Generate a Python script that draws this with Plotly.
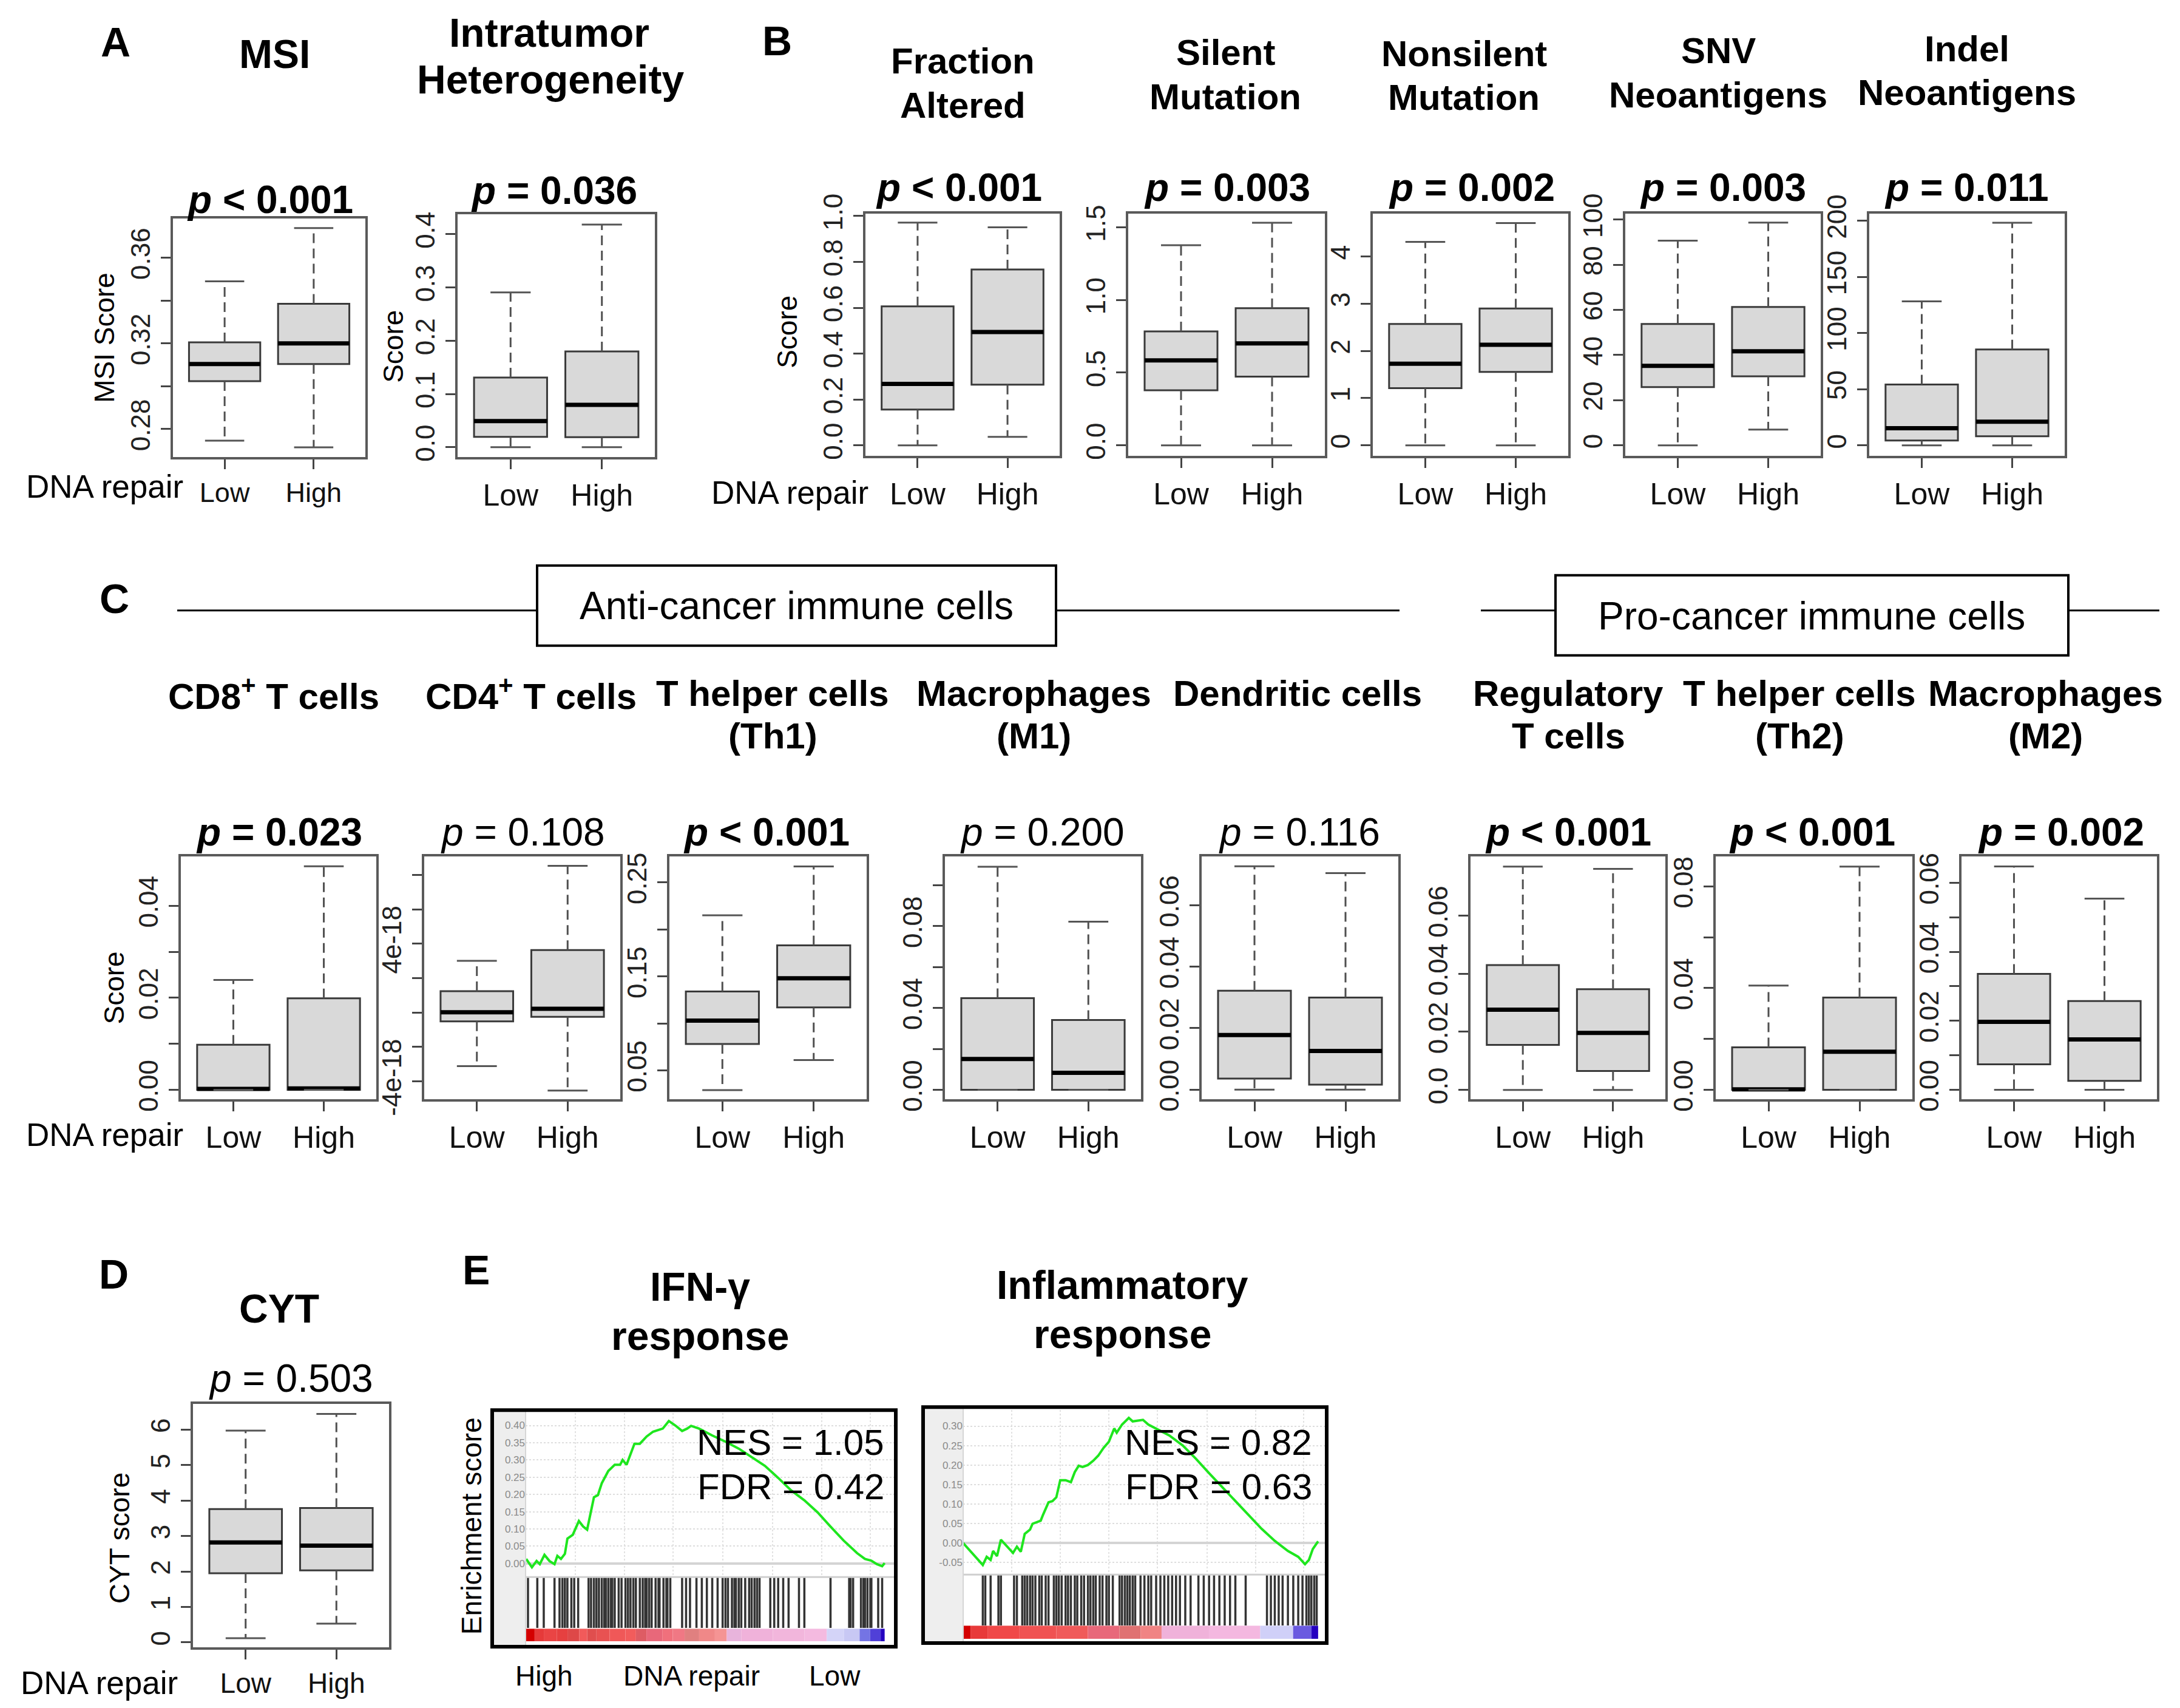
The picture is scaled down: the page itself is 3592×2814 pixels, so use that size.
import plotly.graph_objects as go

W, H = 3592, 2814

# ---------------- data ----------------
GROUPS = ["Low", "High"]
GROUP_POS = [1, 2]

# box statistics: [lower whisker, Q1, median, Q3, upper whisker] for (Low, High)
MSI_STATS = [[0.2746, 0.3024, 0.3104, 0.3205, 0.3490], [0.2715, 0.3104, 0.3200, 0.3385, 0.3739]]
ITH_STATS = [[0.0, 0.0194, 0.049, 0.131, 0.2906], [0.0, 0.019, 0.0797, 0.180, 0.418]]
FA_STATS = [[0.0, 0.156, 0.268, 0.606, 0.971], [0.037, 0.265, 0.494, 0.767, 0.951]]
SILENT_STATS = [[0.0, 0.379, 0.584, 0.784, 1.377], [0.0, 0.473, 0.701, 0.943, 1.531]]
NONSILENT_STATS = [[0.0, 1.21, 1.73, 2.57, 4.31], [0.0, 1.555, 2.13, 2.90, 4.71]]
SNV_STATS = [[0.0, 25.8, 35.2, 53.8, 90.7], [7.0, 30.6, 41.7, 61.3, 98.7]]
INDEL_STATS = [[0.0, 4.3, 15.3, 54.2, 128.2], [0.0, 8.1, 21.1, 85.3, 198.2]]
CD8_STATS = [[0.0, 0.0, 0.0002, 0.0098, 0.0239], [0.0, 0.0, 0.0003, 0.0199, 0.0486]]
CD4_STATS = [[-3.11e-18, -0.51e-18, 0.02e-18, 1.24e-18, 3.01e-18], [-4.53e-18, -0.25e-18, 0.22e-18, 3.63e-18, 8.53e-18]]
TH1_STATS = [[0.029, 0.078, 0.103, 0.134, 0.215], [0.061, 0.117, 0.148, 0.183, 0.267]]
M1_STATS = [[0.0, 0.0, 0.0151, 0.0448, 0.109], [0.0, 0.0, 0.0083, 0.0341, 0.0822]]
DC_STATS = [[0.0, 0.0036, 0.0178, 0.0322, 0.0727], [0.0, 0.0016, 0.0126, 0.030, 0.0705]]
TREG_STATS = [[0.0, 0.0155, 0.0276, 0.043, 0.0769], [0.0, 0.0065, 0.0196, 0.0347, 0.0761]]
TH2_STATS = [[0.0, 0.0, 0.0002, 0.0167, 0.041], [0.0, 0.0, 0.015, 0.0363, 0.0878]]
M2_STATS = [[0.0, 0.0074, 0.0197, 0.0336, 0.0647], [0.0, 0.0026, 0.0146, 0.0257, 0.0554]]
CYT_STATS = [[0.12, 1.95, 2.82, 3.76, 5.97], [0.53, 2.03, 2.73, 3.79, 6.44]]

# y ticks / tick labels
MSI_TICKS = [0.28, 0.30, 0.32, 0.34, 0.36]
MSI_LABELS = ["0.28", "", "0.32", "", "0.36"]
ITH_TICKS = [0.0, 0.1, 0.2, 0.3, 0.4]
ITH_LABELS = ["0.0", "0.1", "0.2", "0.3", "0.4"]
FA_TICKS = [0.0, 0.2, 0.4, 0.6, 0.8, 1.0]
FA_LABELS = ["0.0", "0.2", "0.4", "0.6", "0.8", "1.0"]
SILENT_TICKS = [0.0, 0.5, 1.0, 1.5]
SILENT_LABELS = ["0.0", "0.5", "1.0", "1.5"]
NONSILENT_TICKS = [0, 1, 2, 3, 4]
NONSILENT_LABELS = ["0", "1", "2", "3", "4"]
SNV_TICKS = [0, 20, 40, 60, 80, 100]
SNV_LABELS = ["0", "20", "40", "60", "80", "100"]
INDEL_TICKS = [0, 50, 100, 150, 200]
INDEL_LABELS = ["0", "50", "100", "150", "200"]
CD8_TICKS = [0.0, 0.01, 0.02, 0.03, 0.04]
CD8_LABELS = ["0.00", "", "0.02", "", "0.04"]
CD4_TICKS = [-4e-18, -2e-18, 0.0, 2e-18, 4e-18, 6e-18, 8e-18]
CD4_LABELS = ["-4e-18", "", "", "", "4e-18", "", ""]
TH1_TICKS = [0.05, 0.10, 0.15, 0.20, 0.25]
TH1_LABELS = ["0.05", "", "0.15", "", "0.25"]
M1_TICKS = [0.0, 0.02, 0.04, 0.06, 0.08, 0.10]
M1_LABELS = ["0.00", "", "0.04", "", "0.08", ""]
DC_TICKS = [0.0, 0.02, 0.04, 0.06]
DC_LABELS = ["0.00", "0.02", "0.04", "0.06"]
TREG_TICKS = [0.0, 0.02, 0.04, 0.06]
TREG_LABELS = ["0.0", "0.02", "0.04", "0.06"]
TH2_TICKS = [0.0, 0.02, 0.04, 0.06, 0.08]
TH2_LABELS = ["0.00", "", "0.04", "", "0.08"]
M2_TICKS = [0.0, 0.01, 0.02, 0.03, 0.04, 0.05, 0.06]
M2_LABELS = ["0.00", "", "0.02", "", "0.04", "", "0.06"]
CYT_TICKS = [0, 1, 2, 3, 4, 5, 6]
CYT_LABELS = ["0", "1", "2", "3", "4", "5", "6"]

# GSEA running enrichment score (x = position in ranked list, % of list)
IFN_RANK = [0.0, 1.6, 2.9, 3.8, 5.1, 6.5, 7.9, 8.7, 9.7, 10.8, 11.5, 13.0, 14.7, 15.9, 17.0, 18.9,
            20.0, 21.1, 22.9, 24.7, 26.2, 26.9, 28.0, 30.2, 31.7, 33.6, 35.4, 36.9, 38.1, 39.8, 41.6,
            43.5, 44.9, 46.0, 48.2, 51.9, 55.6, 59.3, 62.9, 66.6, 70.3, 73.9, 77.6, 81.3, 84.9, 88.6,
            92.3, 94.5, 96.3, 97.8, 99.3, 100.0]
IFN_ES = [0.013, -0.011, 0.007, -0.002, 0.025, 0.007, -0.002, 0.022, 0.013, 0.028, 0.072, 0.083,
          0.123, 0.107, 0.098, 0.192, 0.198, 0.233, 0.268, 0.286, 0.286, 0.300, 0.286, 0.347, 0.347,
          0.368, 0.382, 0.388, 0.391, 0.413, 0.400, 0.384, 0.391, 0.399, 0.391, 0.371, 0.353, 0.333,
          0.309, 0.283, 0.248, 0.212, 0.183, 0.148, 0.107, 0.066, 0.030, 0.013, 0.008, -0.002, -0.008,
          0.001]
INF_RANK = [0.0, 5.6, 6.7, 7.8, 8.5, 9.6, 10.7, 12.2, 14.1, 15.2, 16.3, 17.4, 18.9, 19.6, 21.9, 22.6,
            24.1, 25.2, 26.3, 27.4, 28.9, 30.4, 31.5, 32.6, 33.7, 35.2, 36.7, 38.1, 39.6, 41.1, 42.6,
            43.3, 44.8, 46.7, 47.8, 49.3, 50.7, 52.2, 54.4, 58.1, 61.9, 65.6, 69.3, 73.0, 76.7, 80.4,
            84.1, 87.8, 91.5, 94.4, 96.3, 97.4, 98.5, 100.0]
INF_ES = [0.0, -0.057, -0.036, -0.044, -0.021, -0.034, 0.008, -0.008, -0.026, -0.010, -0.023, 0.023,
          0.034, 0.049, 0.057, 0.073, 0.104, 0.107, 0.117, 0.161, 0.161, 0.156, 0.182, 0.198, 0.195,
          0.200, 0.211, 0.224, 0.244, 0.260, 0.294, 0.283, 0.304, 0.321, 0.312, 0.314, 0.316, 0.304,
          0.294, 0.276, 0.250, 0.216, 0.179, 0.143, 0.107, 0.070, 0.036, 0.005, -0.021, -0.036,
          -0.055, -0.044, -0.016, 0.004]

# gene-set hits in the ranked list (% of list)
IFN_HITS = [0.5, 3.1, 4.9, 7.9, 9.3, 10.1, 10.8, 11.5, 12.6, 13.4, 14.5, 17.4, 18.1, 18.9, 19.6, 20.3,
            21.1, 21.8, 22.2, 22.9, 23.6, 24.0, 24.7, 25.8, 26.6, 27.7, 28.4, 29.1, 29.9, 30.6, 31.7,
            32.5, 33.2, 33.6, 34.3, 35.0, 36.1, 36.9, 37.2, 38.3, 39.1, 39.4, 40.2, 43.5, 44.6, 45.7,
            47.5, 49.0, 50.4, 51.9, 53.4, 54.8, 55.6, 56.3, 57.4, 58.1, 58.5, 59.3, 60.0, 61.1, 62.2,
            62.9, 63.7, 64.4, 65.1, 68.1, 69.2, 70.3, 71.7, 73.2, 76.1, 77.6, 84.9, 90.1, 90.5, 91.2,
            93.4, 94.1, 94.5, 95.2, 96.0, 96.3, 98.2, 99.3]
INF_HITS = [5.6, 6.3, 7.8, 10.0, 10.7, 14.4, 15.2, 16.7, 17.4, 18.1, 18.9, 19.6, 20.4, 21.5, 22.2,
            23.3, 24.1, 25.6, 26.3, 27.0, 27.8, 28.9, 29.6, 30.4, 31.5, 32.2, 33.3, 34.1, 35.2, 35.9,
            36.7, 37.4, 38.5, 39.3, 40.4, 41.1, 42.2, 44.1, 44.8, 45.6, 46.3, 47.0, 47.8, 48.5, 50.0,
            51.1, 52.2, 53.0, 54.4, 55.6, 56.7, 57.8, 58.9, 60.0, 61.1, 62.6, 64.1, 66.3, 67.8, 69.3,
            70.7, 72.2, 73.7, 75.2, 76.7, 79.6, 85.6, 86.7, 87.8, 88.9, 90.0, 91.5, 93.0, 94.4, 95.6,
            96.7, 97.4, 98.1, 98.9, 99.6]

# ranked-list colour band edges (% of list) and colours
IFN_BAND_EDGES = [0.0, 2.35, 4.92, 8.59, 11.53, 14.83, 17.03, 19.60, 23.27, 27.68, 30.62, 33.55, 37.96,
                  40.90, 44.20, 48.24, 52.64, 55.95, 59.99, 68.80, 77.61, 83.85, 88.62, 93.02, 95.96,
                  98.90, 100.0]
IFN_BAND_COLORS = ["#d40000", "#e63a3a", "#ea4444", "#e64040", "#de4848", "#f25a5a", "#e04e4e",
                   "#e85252", "#f05858", "#f25c5c", "#de5c64", "#e8687a", "#f0707c", "#f07884",
                   "#e08080", "#f08888", "#f59494", "#e8b4dc", "#f0b2da", "#f2b6dc", "#f4bae0",
                   "#d4d4f8", "#c8c8f4", "#7474e4", "#5040d8", "#2400c0"]
INF_BAND_EDGES = [0.0, 2.22, 7.04, 15.93, 26.30, 35.19, 44.07, 50.0, 55.93, 69.26, 83.70, 92.96,
                  98.15, 100.0]
INF_BAND_COLORS = ["#d40000", "#e83a3a", "#f04848", "#f05252", "#f05a5a", "#e8687a", "#e07272",
                   "#f08484", "#f0b2da", "#f4b8e0", "#d0d0f8", "#6a5ae0", "#2400c0"]

GSEA_GRID = [13.7, 27.4, 41.0, 54.8, 68.7, 82.5, 96.0]
IFN_YTICKS = [0.0, 0.05, 0.10, 0.15, 0.20, 0.25, 0.30, 0.35, 0.40]
IFN_YLABELS = ["0.00", "0.05", "0.10", "0.15", "0.20", "0.25", "0.30", "0.35", "0.40"]
INF_YTICKS = [-0.05, 0.0, 0.05, 0.10, 0.15, 0.20, 0.25, 0.30]
INF_YLABELS = ["-0.05", "0.00", "0.05", "0.10", "0.15", "0.20", "0.25", "0.30"]

# ---------------- helpers ----------------
FONT = "Liberation Sans, Arial, Helvetica, sans-serif"
# page placement compensation (measured from the first render)
X_OFF = 8
Y_OFF = 40
Y_SCALE = 0.979


def fx(px):
    return (px - X_OFF) / W


def fy(py):
    return 1 - ((py - Y_OFF) / Y_SCALE) / H


def axname(n):
    return ("x" if n == 1 else f"x{n}"), ("y" if n == 1 else f"y{n}")


def laykey(n):
    return ("xaxis" if n == 1 else f"xaxis{n}"), ("yaxis" if n == 1 else f"yaxis{n}")


fig = go.Figure()
axes = {}
annotations = []
shapes = []

BOX_FILL = "#d9d9d9"
BOX_LINE = "#3a3a3a"
FRAME = "#5a5a5a"


def box_panel(n, stats, ticks, labels, yrange, frame, xfont=50):
    xa, ya = axname(n)
    common = dict(xaxis=xa, yaxis=ya, showlegend=False, hoverinfo="skip")
    for pos, (lo, q1, med, q3, hi) in zip(GROUP_POS, stats):
        fig.add_trace(go.Scatter(x=[pos, pos, None, pos, pos], y=[q3, hi, None, q1, lo], mode="lines",
                                 line=dict(color="#505050", width=3, dash="16px,9px"), **common))
        fig.add_trace(go.Box(x=[pos], q1=[q1], median=[med], q3=[q3], lowerfence=[q1], upperfence=[q3],
                             width=0.8, fillcolor=BOX_FILL, line=dict(color=BOX_LINE, width=3),
                             boxpoints=False, **common))
        fig.add_trace(go.Scatter(x=[pos - 0.4, pos + 0.4], y=[med, med], mode="lines",
                                 line=dict(color="black", width=7), **common))
        fig.add_trace(go.Scatter(x=[pos - 0.22, pos + 0.22, None, pos - 0.22, pos + 0.22],
                                 y=[hi, hi, None, lo, lo], mode="lines",
                                 line=dict(color="#555555", width=3), **common))
    x0, x1, y0, y1 = frame
    kx, ky = laykey(n)
    axes[kx] = dict(domain=[fx(x0), fx(x1)], range=[0.42, 2.58], anchor=ya, tickmode="array",
                    tickvals=GROUP_POS, ticktext=GROUPS, ticks="outside", ticklen=16, tickwidth=3,
                    tickcolor="#444", showline=True, mirror=True, linecolor=FRAME, linewidth=4,
                    showgrid=False, zeroline=False,
                    tickfont=dict(family=FONT, size=xfont, color="#111"), fixedrange=True)
    axes[ky] = dict(domain=[fy(y1), fy(y0)], range=yrange, anchor=xa, tickmode="array",
                    tickvals=ticks, ticktext=labels, tickangle=-90, ticks="outside", ticklen=16,
                    tickwidth=3, tickcolor="#444", showline=True, mirror=True, linecolor=FRAME,
                    linewidth=4, showgrid=False, zeroline=False,
                    tickfont=dict(family=FONT, size=44, color="#222"), fixedrange=True)


def txt(x, y, s, size, bold=False, angle=0, xanchor="center", color="black"):
    annotations.append(dict(x=fx(x), y=fy(y), xref="paper", yref="paper",
                            text=f"<b>{s}</b>" if bold else s, showarrow=False,
                            font=dict(family=FONT, size=size, color=color), textangle=angle,
                            xanchor=xanchor, yanchor="middle"))


def pline(x0, y0, x1, y1, width=3, color="black"):
    shapes.append(dict(type="line", xref="paper", yref="paper", x0=fx(x0), x1=fx(x1), y0=fy(y0),
                       y1=fy(y1), line=dict(color=color, width=width)))


def prect(x0, y0, x1, y1, width=4, color="black", fill=None, layer="above"):
    d = dict(type="rect", xref="paper", yref="paper", x0=fx(x0), x1=fx(x1), y0=fy(y1), y1=fy(y0),
             line=dict(color=color, width=width), layer=layer)
    if fill:
        d["fillcolor"] = fill
    if width == 0:
        d["line"] = dict(width=0)
    shapes.append(d)


# ---------------- panel A ----------------
box_panel(1, MSI_STATS, MSI_TICKS, MSI_LABELS, [0.267, 0.3784], (285, 602, 359, 752), xfont=45)
box_panel(2, ITH_STATS, ITH_TICKS, ITH_LABELS, [-0.0182, 0.4376], (754, 1079, 352, 752))
# ---------------- panel B ----------------
box_panel(3, FA_STATS, FA_TICKS, FA_LABELS, [-0.045, 1.0106], (1426, 1746, 351, 750))
box_panel(4, SILENT_STATS, SILENT_TICKS, SILENT_LABELS, [-0.071, 1.594], (1859, 2183, 351, 750))
box_panel(5, NONSILENT_STATS, NONSILENT_TICKS, NONSILENT_LABELS, [-0.22, 4.91], (2262, 2584, 351, 750))
box_panel(6, SNV_STATS, SNV_TICKS, SNV_LABELS, [-4.6, 102.7], (2678, 3000, 351, 750))
box_panel(7, INDEL_STATS, INDEL_TICKS, INDEL_LABELS, [-9.2, 206.3], (3080, 3402, 351, 750))
# ---------------- panel C ----------------
box_panel(8, CD8_STATS, CD8_TICKS, CD8_LABELS, [-0.0021, 0.0508], (298, 620, 1410, 1811))
box_panel(9, CD4_STATS, CD4_TICKS, CD4_LABELS, [-5.05e-18, 9.09e-18], (699, 1022, 1410, 1811))
box_panel(10, TH1_STATS, TH1_TICKS, TH1_LABELS, [0.019, 0.278], (1103, 1428, 1410, 1811))
box_panel(11, M1_STATS, M1_TICKS, M1_LABELS, [-0.0047, 0.1142], (1557, 1880, 1410, 1811))
box_panel(12, DC_STATS, DC_TICKS, DC_LABELS, [-0.0032, 0.076], (1980, 2304, 1410, 1811))
box_panel(13, TREG_STATS, TREG_TICKS, TREG_LABELS, [-0.0033, 0.0805], (2423, 2744, 1410, 1811))
box_panel(14, TH2_STATS, TH2_TICKS, TH2_LABELS, [-0.0038, 0.0919], (2827, 3151, 1410, 1811))
box_panel(15, M2_STATS, M2_TICKS, M2_LABELS, [-0.0028, 0.0677], (3232, 3554, 1410, 1811))
# ---------------- panel D ----------------
box_panel(16, CYT_STATS, CYT_TICKS, CYT_LABELS, [-0.14, 6.72], (318, 641, 2313, 2714), xfont=46)


# ---------------- panel E (GSEA) ----------------
def gsea(n, outer, strip_x1, plot_x1, curve_y, hits_y, cbar_y, xrange, ranks, es, yticks, ylabels,
         yrange, hits, edges, colors):
    ox0, oy0, ox1, oy1 = outer
    prect(ox0, oy0, strip_x1, oy1, width=0, fill="#eeeeee", layer="below")
    # curve
    xa, ya = axname(n)
    kx, ky = laykey(n)
    fig.add_trace(go.Scatter(x=ranks, y=es, mode="lines", line=dict(color="#1ee61e", width=4),
                             xaxis=xa, yaxis=ya, showlegend=False, hoverinfo="skip"))
    axes[kx] = dict(domain=[fx(strip_x1), fx(plot_x1)], range=xrange, anchor=ya, tickmode="array",
                    tickvals=GSEA_GRID, showticklabels=False, ticks="", showgrid=True,
                    gridcolor="#e2e2e2", griddash="dot", gridwidth=2, zeroline=False,
                    showline=False, fixedrange=True)
    axes[ky] = dict(domain=[fy(curve_y[1]), fy(curve_y[0])], range=yrange, anchor=xa,
                    tickmode="array", tickvals=yticks, ticktext=ylabels, ticks="", showgrid=True,
                    gridcolor="#dedede", griddash="dot", gridwidth=2, zeroline=True,
                    zerolinecolor="#d4d4d4", zerolinewidth=4, showline=False,
                    tickfont=dict(family=FONT, size=17, color="#8a8a8a"), fixedrange=True)
    # hits
    xa2, ya2 = axname(n + 1)
    kx2, ky2 = laykey(n + 1)
    fig.add_trace(go.Bar(x=hits, y=[1] * len(hits), width=0.6,
                         marker=dict(color="#111111", line=dict(width=0)),
                         opacity=0.85, xaxis=xa2, yaxis=ya2, showlegend=False, hoverinfo="skip"))
    axes[kx2] = dict(domain=[fx(strip_x1), fx(plot_x1)], range=xrange, anchor=ya2, visible=False,
                     fixedrange=True)
    axes[ky2] = dict(domain=[fy(hits_y[1]), fy(hits_y[0])], range=[0, 1], anchor=xa2, visible=False,
                     fixedrange=True)
    # colour band
    xa3, ya3 = axname(n + 2)
    kx3, ky3 = laykey(n + 2)
    mids = [(a + b) / 2 for a, b in zip(edges[:-1], edges[1:])]
    widths = [b - a for a, b in zip(edges[:-1], edges[1:])]
    fig.add_trace(go.Bar(x=mids, y=[1] * len(mids), width=widths,
                         marker=dict(color=colors, line=dict(width=0)),
                         xaxis=xa3, yaxis=ya3, showlegend=False, hoverinfo="skip"))
    axes[kx3] = dict(domain=[fx(strip_x1), fx(plot_x1)], range=xrange, anchor=ya3, visible=False,
                     fixedrange=True)
    axes[ky3] = dict(domain=[fy(cbar_y[1]), fy(cbar_y[0])], range=[0, 1], anchor=xa3, visible=False,
                     fixedrange=True)
    pline(strip_x1, hits_y[0], ox1, hits_y[0], width=3, color="#cfcfcf")
    pline(strip_x1, oy0, strip_x1, oy1, width=2, color="#d6d6d6")
    prect(ox0, oy0, ox1, oy1, width=6, color="black")


gsea(17, (811, 2323, 1476, 2713), 866, 1473, (2328, 2595), (2598, 2682), (2683, 2704),
     [-0.17, 102.6], IFN_RANK, IFN_ES, IFN_YTICKS, IFN_YLABELS, [-0.034, 0.4357], IFN_HITS,
     IFN_BAND_EDGES, IFN_BAND_COLORS)
gsea(20, (1521, 2318, 2186, 2707), 1587, 2183, (2323, 2593), (2594, 2678), (2678, 2700),
     [0.07, 101.9], INF_RANK, INF_ES, INF_YTICKS, INF_YLABELS, [-0.080, 0.341], INF_HITS,
     INF_BAND_EDGES, INF_BAND_COLORS)

# ---------------- texts ----------------
LET = 68
for lab, x, y in [("A", 190, 68), ("B", 1280, 66), ("C", 188, 985), ("D", 187, 2099), ("E", 784, 2092)]:
    txt(x, y, lab, LET, bold=True)

# A titles
txt(452, 88, "MSI", 66, bold=True)
txt(905, 53, "Intratumor", 66, bold=True)
txt(907, 130, "Heterogeneity", 66, bold=True)
# B titles
for x, l1, l2, y1, y2 in [(1586, "Fraction", "Altered", 100, 173), (2019, "Silent", "Mutation", 86, 159),
                          (2412, "Nonsilent", "Mutation", 88, 160), (2831, "SNV", "Neoantigens", 83, 156),
                          (3241, "Indel", "Neoantigens", 80, 152)]:
    txt(x, y1, l1, 60, bold=True)
    txt(x, y2, l2, 60, bold=True)

P_LT = "<i>p</i> &lt; 0.001"
# p-values A/B
txt(445, 328, P_LT, 64, bold=True)
txt(913, 313, "<i>p</i> = 0.036", 64, bold=True)
for x, s in [(1580, P_LT), (2022, "<i>p</i> = 0.003"), (2425, "<i>p</i> = 0.002"),
             (2839, "<i>p</i> = 0.003"), (3240, "<i>p</i> = 0.011")]:
    txt(x, 308, s, 64, bold=True)

# C header
txt(1312, 997, "Anti-cancer immune cells", 64)
pline(292, 1005, 885, 1005)
prect(885, 931, 1740, 1063, width=4)
pline(1740, 1005, 2306, 1005)
txt(2985, 1014, "Pro-cancer immune cells", 64)
pline(2440, 1005, 2563, 1005)
prect(2563, 947, 3408, 1079, width=4)
pline(3408, 1005, 3558, 1005)

# C titles
for x, l1, l2 in [(451, "CD8<sup>+</sup> T cells", None), (875, "CD4<sup>+</sup> T cells", None),
                  (1273, "T helper cells", "(Th1)"), (1703, "Macrophages", "(M1)"),
                  (2138, "Dendritic cells", None), (2584, "Regulatory", "T cells"),
                  (2965, "T helper cells", "(Th2)"), (3370, "Macrophages", "(M2)")]:
    txt(x, 1142, l1, 60, bold=True)
    if l2:
        txt(x, 1212, l2, 60, bold=True)

# C p-values
for x, s, b in [(460, "<i>p</i> = 0.023", True), (861, "<i>p</i> = 0.108", False), (1263, P_LT, True),
                (1717, "<i>p</i> = 0.200", False), (2141, "<i>p</i> = 0.116", False),
                (2584, P_LT, True), (2986, P_LT, True), (3396, "<i>p</i> = 0.002", True)]:
    txt(x, 1370, s, 64, bold=b)

# D
txt(460, 2156, "CYT", 66, bold=True)
txt(479, 2271, "<i>p</i> = 0.503", 64)

# E titles
txt(1153, 2120, "IFN-γ", 66, bold=True)
txt(1153, 2201, "response", 66, bold=True)
txt(1849, 2117, "Inflammatory", 66, bold=True)
txt(1849, 2198, "response", 66, bold=True)
for x, y, s in [(1459, 2376, "NES = 1.05"), (1459, 2449, "FDR = 0.42"),
                (2164, 2376, "NES = 0.82"), (2164, 2449, "FDR = 0.63")]:
    txt(x, y, s, 60, xanchor="right")
txt(896, 2761, "High", 46)
txt(1139, 2761, "DNA repair", 46)
txt(1375, 2761, "Low", 46)

# axis titles
txt(172, 556, "MSI Score", 46, angle=-90)
txt(648, 570, "Score", 46, angle=-90)
txt(1297, 546, "Score", 46, angle=-90)
txt(188, 1627, "Score", 46, angle=-90)
txt(197, 2534, "CYT score", 46, angle=-90)
txt(777, 2514, "Enrichment score", 46, angle=-90)

# DNA repair labels
txt(172, 801, "DNA repair", 53)
txt(1301, 811, "DNA repair", 53)
txt(172, 1869, "DNA repair", 53)
txt(163, 2772, "DNA repair", 53)

fig.update_layout(width=W, height=H, autosize=False, margin=dict(l=0, r=0, t=0, b=0, pad=0),
                  paper_bgcolor="white", plot_bgcolor="white", showlegend=False,
                  barmode="overlay", annotations=annotations, shapes=shapes, **axes)

fig.write_html("out.html")
